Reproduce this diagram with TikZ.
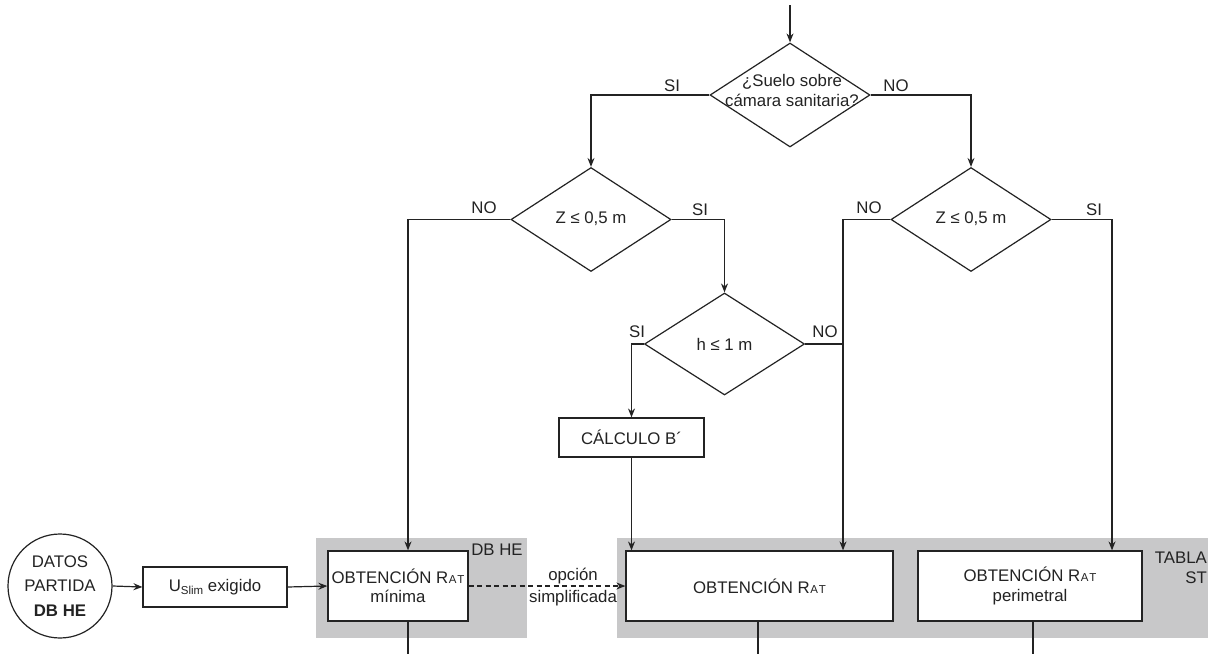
\documentclass[tikz,border=0pt]{standalone}
\usepackage{fontspec}
\setmainfont{Liberation Sans}
\usetikzlibrary{shapes.geometric,arrows.meta}
\definecolor{zonegray}{RGB}{200,200,201}
\definecolor{ink}{RGB}{35,35,35}
\newcommand\myRAT{R{\fontsize{11.5}{12}\selectfont\kern0.5pt A\kern0.8pt T}}
\newcommand\myUS{U\raisebox{-3pt}{\fontsize{11.5}{12}\selectfont Slim}}
\begin{document}
\begin{tikzpicture}[x=1pt,y=-1pt,
  every node/.style={font=\fontsize{16.8}{18}\selectfont, text=ink},
  ln/.style={draw=ink, line width=1.2pt},
  arr/.style={ln, -{Stealth[length=9pt,width=7pt,inset=3pt]}},
  dia/.style={diamond, draw=ink, line width=1.2pt, minimum width=160pt, minimum height=104pt, inner sep=0pt},
  box/.style={rectangle, draw=ink, line width=1.2pt, fill=white, inner sep=0pt, align=center},
  lbl/.style={inner sep=0pt},
  zone/.style={fill=zonegray, draw=none}]
\useasboundingbox (0,0) rectangle (1208,654);
\fill[white] (0,0) rectangle (1208,654);
% grey zones
\fill[zone] (316,538) rectangle (527,638);
\fill[zone] (617,538) rectangle (1208,638);
\node[lbl] (dbhe) at (497,550) {DB HE};
\node[lbl, align=right, anchor=east, font=\fontsize{16.8}{20}\selectfont] (tabla) at (1207,568) {TABLA\\ST};
% decisions
\node[dia] (d1) at (790,95) {};
\node[lbl, align=center, font=\fontsize{16.8}{20}\selectfont] (d1t) at (792,90) {¿Suelo sobre\\cámara sanitaria?};
\node[dia] (z1) at (591,219.5) {};
\node[lbl] (z1t) at (591,219) {Z ≤ 0,5 m};
\node[dia] (z2) at (971,219.5) {};
\node[lbl] (z2t) at (971,219) {Z ≤ 0,5 m};
\node[dia, minimum height=102pt] (hd) at (724.5,344) {};
\node[lbl] (hdt) at (724.5,344) {h ≤ 1 m};
% boxes
\node[box, minimum width=145pt, minimum height=39pt] (cb) at (631.5,437.5) {CÁLCULO B´};
\node[circle, draw=ink, line width=1.2pt, fill=white, minimum size=104pt, inner sep=0pt, align=center, font=\fontsize{16.8}{24.5}\selectfont] (dat) at (60,586) {DATOS\\PARTIDA\\\textbf{DB HE}};
\node[box, minimum width=144pt, minimum height=40pt] (us) at (215,587) {\myUS{} exigido};
\node[box, minimum width=140pt, minimum height=70pt, font=\fontsize{16.8}{18.5}\selectfont] (mn) at (398,586) {OBTENCIÓN \myRAT\\mínima};
\node[box, minimum width=267pt, minimum height=70pt] (rat) at (759.5,586) {OBTENCIÓN \myRAT};
\node[box, minimum width=224pt, minimum height=70pt, font=\fontsize{16.8}{20}\selectfont] (pm) at (1030,586) {OBTENCIÓN \myRAT\\perimetral};
% coordinates
\coordinate (top) at (790,5);
\coordinate (j) at (843,344);
\coordinate (e1) at (408,654);
\coordinate (e2) at (758,654);
\coordinate (e3) at (1033,654);
% connectors
\draw[arr] (top) -- (d1.north);
\draw[arr] (d1.west) -| (z1.north);
\draw[arr] (d1.east) -| (z2.north);
\draw[arr] (z1.west) -| ([xshift=10pt]mn.north);
\draw[arr] (z1.east) -| (hd.north);
\draw[arr] (hd.west) -| (cb.north);
\draw[arr] (cb.south) -- (cb.south |- rat.north);
\draw[ln] (hd.east) -- (j);
\draw[arr] (z2.west) -| (j |- rat.north);
\draw[arr] (z2.east) -| ([xshift=82pt]pm.north);
\draw[arr] (dat.east) -- (us.west);
\draw[arr] (us.east) -- (mn.west);
\draw[arr, dash pattern=on 5pt off 3.5pt] (mn.east) -- (rat.west);
\draw[ln] (mn.south -| e1) -- (e1);
\draw[ln] (rat.south -| e2) -- (e2);
\draw[ln] (pm.south -| e3) -- (e3);
% branch labels
\node[lbl] (l1) at (672,86) {SI};
\node[lbl] (l2) at (896,86) {NO};
\node[lbl] (l3) at (484,208) {NO};
\node[lbl] (l4) at (700,210) {SI};
\node[lbl] (l5) at (637,332) {SI};
\node[lbl] (l6) at (825,332) {NO};
\node[lbl] (l7) at (869,208) {NO};
\node[lbl] (l8) at (1094,210) {SI};
\node[lbl] (op) at (573,576) {opción};
\node[lbl] (si) at (573,598) {simplificada};
\end{tikzpicture}
\end{document}
